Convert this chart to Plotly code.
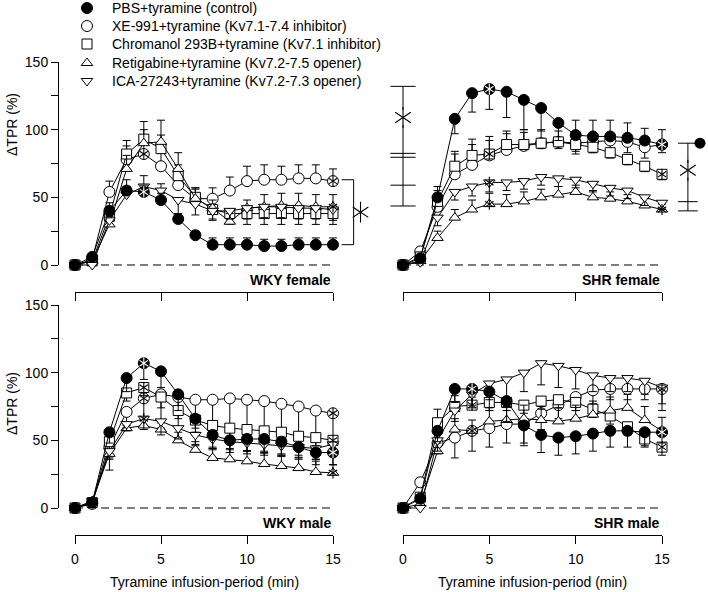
import plotly.graph_objects as go

W, H = 708, 592
FONT = "Liberation Sans, Arial, sans-serif"

minutes = list(range(16))

names = ["PBS+tyramine (control)",
         "XE-991+tyramine (Kv7.1-7.4 inhibitor)",
         "Chromanol 293B+tyramine (Kv7.1 inhibitor)",
         "Retigabine+tyramine (Kv7.2-7.5 opener)",
         "ICA-27243+tyramine (Kv7.2-7.3 opener)"]
symbols = ["circle", "circle", "square", "triangle-up", "triangle-down"]
fills = ["black", "white", "white", "white", "white"]

# dTPR (%) means; errors are signed: + bar drawn upward, - bar drawn downward
# WKY female
wkyf_pbs = [0, 6, 40, 55, 54, 48, 34, 22, 15, 15, 15, 14, 14, 15, 15, 15]
wkyf_xe = [0, 4, 54, 78, 82, 73, 59, 49, 49, 55, 62, 63, 63, 64, 64, 62]
wkyf_chr = [0, 3, 36, 82, 93, 86, 66, 50, 41, 38, 38, 38, 38, 38, 38, 38]
wkyf_ret = [0, 3, 30, 71, 90, 91, 71, 49, 42, 32, 42, 43, 44, 44, 43, 43]
wkyf_ica = [0, 0, 33, 52, 58, 55, 48, 45, 40, 40, 42, 43, 43, 42, 42, 41]
wkyf_pbs_err = [0, 2, 6, 8, 5, 5, 4, 3, 5, 5, 5, 5, 5, 5, 5, 5]
wkyf_xe_err = [0, 2, 8, 10, 10, 10, 10, 8, 8, 10, 11, 11, 10, 10, 10, 9]
wkyf_chr_err = [0, 2, 6, 10, 13, 10, 8, 6, -8, -8, -8, -8, -8, -8, -8, -8]
wkyf_ret_err = [0, 2, 6, 10, 10, 16, 12, 8, 6, 6, 6, 9, 9, 9, 9, 9]
wkyf_ica_err = [0, 1, 5, 6, 8, 5, -10, -8, -6, -6, -8, -8, -8, -8, -8, -8]

# SHR female
shrf_pbs = [0, 5, 50, 108, 127, 130, 128, 122, 116, 105, 96, 95, 95, 94, 92, 89]
shrf_xe = [0, 10, 43, 67, 74, 81, 85, 88, 90, 91, 90, 91, 92, 91, 87, 89]
shrf_chr = [0, 6, 47, 73, 81, 82, 89, 89, 90, 91, 89, 87, 83, 78, 73, 67]
shrf_ret = [0, 3, 20, 35, 41, 45, 45, 47, 50, 52, 54, 50, 49, 47, 44, 41]
shrf_ica = [0, 2, 35, 54, 58, 61, 61, 62, 65, 64, 63, 60, 57, 55, 50, 46]
shrf_pbs_err = [0, 2, 8, -11, -14, -15, -19, -22, -17, -13, 11, 12, 12, 11, 9, 11]
shrf_xe_err = [0, 3, 8, 15, 15, 14, 12, 12, 10, 8, -8, -8, -8, -8, -8, -6]
shrf_chr_err = [0, 3, 8, 11, 12, 10, 10, 9, -4, -5, -5, -4, -4, -4, -4, -4]
shrf_ret_err = [0, 2, 5, 6, 7, 8, 7, 7, 6, 6, 5, 5, 5, 5, 5, 4]
shrf_ica_err = [0, 2, -6, -6, -7, -7, -6, -6, -6, -6, -6, -6, -6, -6, -6, -5]

# WKY male
wkym_pbs = [0, 4, 56, 96, 107, 101, 84, 66, 54, 50, 51, 51, 49, 45, 41, 41]
wkym_xe = [0, 3, 45, 71, 81, 84, 82, 80, 80, 81, 80, 79, 77, 75, 72, 70]
wkym_chr = [0, 4, 49, 85, 89, 82, 72, 65, 61, 59, 58, 57, 56, 53, 52, 50]
wkym_ret = [0, 5, 40, 59, 61, 58, 50, 43, 37, 36, 34.5, 32.5, 31, 29.5, 26.6, 26]
wkym_ica = [0, 5, 42, 62, 66, 64, 59, 54, 51, 49, 48, 47, 46, 45, 44, 47]
wkym_pbs_err = [0, 2, -8, -10, -12, -12, -12, -10, -10, -9, -9, -9, -9, -9, -9, -9]
wkym_xe_err = [0, 2, -8, -10, -20, -25, -30, -33, -36, -38, -38, -38, -38, -36, -36, -38]
wkym_chr_err = [0, 2, -6, -6, -6, -8, -6, -6, -6, -6, -6, -6, -6, -6, -6, -6]
wkym_ret_err = [0, 2, -12, 4, 4, 5, 6, 6, 8, 8, 8, 8, 8, 8, 8, 6]
wkym_ica_err = [0, 2, -6, -5, -8, -10, -8, -8, -8, -8, -8, -8, -8, -8, -8, -8]

# SHR male
shrm_pbs = [0, 7, 57, 88, 88, 86, 79, 61, 54, 52, 53, 55, 57, 57, 56, 56]
shrm_xe = [0, 19, 48, 52, 57, 59, 62, 62, 70, 76, 82, 87, 88, 88, 88, 88]
shrm_chr = [0, 8, 63, 75, 76, 78, 78, 76, 79, 80, 78, 73, 68, 60, 51, 45]
shrm_ret = [0, 3, 42, 58, 57, 64, 65, 66, 65, 64, 66, 69, 72, 74, 65, 57]
shrm_ica = [0, 0, 50, 72, 84, 92, 95, 100, 107, 105, 102, 98, 96, 96, 94, 89]
shrm_pbs_err = [0, 2, -8, -10, -12, -14, -15, -15, -13, -13, -13, -13, -12, -12, -10, -8]
shrm_xe_err = [0, 3, -8, -15, -15, -14, -14, -14, -12, -10, -10, -10, -8, -8, -8, -16]
shrm_chr_err = [0, 3, 10, 8, 6, -6, -6, -6, -6, -6, -6, -6, -6, -6, -6, -6]
shrm_ret_err = [0, 2, 6, 8, 8, 10, 10, 10, 10, 10, 10, 10, 10, 10, 10, 10]
shrm_ica_err = [0, 2, -8, -8, -10, -12, -14, -14, -16, -16, -14, -12, -10, -10, -10, -12]

# significance stars inside markers: series index -> minutes
wkyf_stars = {0: [4], 1: [4, 15], 3: [15]}
shrf_stars = {0: [5, 15], 2: [5, 15], 3: [5, 15], 4: [5]}
wkym_stars = {0: [4, 15], 1: [4, 15], 2: [4, 15], 3: [15], 4: [4]}
shrm_stars = {0: [4, 15], 1: [4, 15], 2: [4, 15]}

# significance brackets (x in min, y in %)
wkyf_bracket_x, wkyf_bracket_lo, wkyf_bracket_hi, wkyf_star_at = 16.2, 15, 63, (16.6, 39)
shrf_left_x, shrf_left_caps, shrf_left_star = 0, [132, 82.5, 79.6, 59, 43.6], 109
shrf_right_x, shrf_right_caps, shrf_right_star = 16.5, [90, 46.8, 40], 70
shrf_key_dot = (17.2, 90)

# legend placement (pixels from top-left)
legend_marker_x, legend_text_x = 87, 110
legend_rows = [8, 26, 44, 63, 81]

panels = [
    dict(label="WKY female", means=[wkyf_pbs, wkyf_xe, wkyf_chr, wkyf_ret, wkyf_ica],
         errs=[wkyf_pbs_err, wkyf_xe_err, wkyf_chr_err, wkyf_ret_err, wkyf_ica_err],
         stars=wkyf_stars, t0=75, t15=333, y0=265, y150=62, axis_px=292, left=True, bottom=False,
         xr=[-1.5, 17.6], ytitle_px=125),
    dict(label="SHR female", means=[shrf_pbs, shrf_xe, shrf_chr, shrf_ret, shrf_ica],
         errs=[shrf_pbs_err, shrf_xe_err, shrf_chr_err, shrf_ret_err, shrf_ica_err],
         stars=shrf_stars, t0=403, t15=662, y0=265, y150=62, axis_px=292, left=False, bottom=False,
         xr=[-1.2, 17.65]),
    dict(label="WKY male", means=[wkym_pbs, wkym_xe, wkym_chr, wkym_ret, wkym_ica],
         errs=[wkym_pbs_err, wkym_xe_err, wkym_chr_err, wkym_ret_err, wkym_ica_err],
         stars=wkym_stars, t0=75, t15=333, y0=508, y150=305, axis_px=535, left=True, bottom=True,
         xr=[-1.5, 17.6], ytitle_px=404),
    dict(label="SHR male", means=[shrm_pbs, shrm_xe, shrm_chr, shrm_ret, shrm_ica],
         errs=[shrm_pbs_err, shrm_xe_err, shrm_chr_err, shrm_ret_err, shrm_ica_err],
         stars=shrm_stars, t0=403, t15=662, y0=508, y150=305, axis_px=535, left=False, bottom=True,
         xr=[-1.2, 17.65]),
]
YR = [-10, 160]

fig = go.Figure()
layout = {}
annotations = []


def star(x, y, size, color, xa, ya, gap=False):
    if gap:
        fig.add_trace(go.Scatter(x=x, y=y, xaxis=xa, yaxis=ya, mode="markers", showlegend=False,
                                 hoverinfo="skip", cliponaxis=False,
                                 marker=dict(symbol="square", size=size + 2, color="white", line=dict(width=0))))
    for sym in ("y-up-open", "y-down-open"):
        fig.add_trace(go.Scatter(x=x, y=y, xaxis=xa, yaxis=ya, mode="markers", showlegend=False,
                                 hoverinfo="skip", cliponaxis=False,
                                 marker=dict(symbol=sym, size=size, color=color,
                                             line=dict(color=color, width=1.1))))


def caps(x, ys, size, xa, ya):
    fig.add_trace(go.Scatter(x=[x] * len(ys), y=ys, xaxis=xa, yaxis=ya, mode="markers", showlegend=False,
                             hoverinfo="skip", cliponaxis=False,
                             marker=dict(symbol="line-ew-open", size=size, color="black",
                                         line=dict(color="black", width=1))))


def vline(x, lo, hi, xa, ya):
    fig.add_trace(go.Scatter(x=[x, x], y=[lo, hi], xaxis=xa, yaxis=ya, mode="lines", showlegend=False,
                             hoverinfo="skip", line=dict(color="black", width=1)))


for i, p in enumerate(panels, start=1):
    xa = "x" if i == 1 else f"x{i}"
    ya = "y" if i == 1 else f"y{i}"
    s = (p["t15"] - p["t0"]) / 15.0
    sy = (p["y0"] - p["y150"]) / 150.0
    xl = p["t0"] + p["xr"][0] * s
    xr = p["t0"] + p["xr"][1] * s
    yb = p["y0"] - YR[0] * sy
    yt = p["y0"] - YR[1] * sy
    layout["xaxis" if i == 1 else f"xaxis{i}"] = dict(domain=[xl / W, min(xr / W, 1)], range=p["xr"],
                                                      visible=False, anchor=ya, fixedrange=True)
    layout["yaxis" if i == 1 else f"yaxis{i}"] = dict(domain=[1 - yb / H, 1 - yt / H], range=YR,
                                                      visible=False, anchor=xa, fixedrange=True)

    # drawn x axis (0-15 min)
    layout[f"xaxis{i + 4}"] = dict(domain=[p["t0"] / W, p["t15"] / W], range=[0, 15], anchor="free",
                                   position=1 - p["axis_px"] / H, showline=True, linecolor="black",
                                   linewidth=1, ticks="outside", ticklen=8, tickwidth=1, tickcolor="black",
                                   tickvals=[0, 5, 10, 15], showticklabels=p["bottom"], showgrid=False,
                                   zeroline=False, ticklabelstandoff=3, side="bottom",
                                   tickfont=dict(size=14, color="black", family=FONT), fixedrange=True)
    fig.add_trace(go.Scatter(x=[None], y=[None], xaxis=f"x{i + 4}", yaxis=ya, showlegend=False,
                             hoverinfo="skip"))
    if p["left"]:
        yid = 5 if i == 1 else 6
        layout[f"yaxis{yid}"] = dict(domain=[1 - p["y0"] / H, 1 - p["y150"] / H], range=[0, 150],
                                     anchor="free", position=58 / W, showline=True, linecolor="black",
                                     linewidth=1, ticks="outside", ticklen=7, tickwidth=1, tickcolor="black",
                                     tickvals=[0, 25, 50, 75, 100, 125, 150],
                                     ticktext=["0", "", "50", "", "100", "", "150"],
                                     showgrid=False, zeroline=False, side="left",
                                     tickfont=dict(size=14, color="black", family=FONT), fixedrange=True)
        fig.add_trace(go.Scatter(x=[None], y=[None], xaxis=xa, yaxis=f"y{yid}", showlegend=False,
                                 hoverinfo="skip"))
        annotations.append(dict(text="ΔTPR (%)", xref="paper", yref="paper", x=12 / W,
                                y=1 - p["ytitle_px"] / H, textangle=-90, showarrow=False,
                                xanchor="center", yanchor="middle",
                                font=dict(size=14, color="black", family=FONT)))
    if p["bottom"]:
        annotations.append(dict(text="Tyramine infusion-period (min)", xref="paper", yref="paper",
                                x=(p["t0"] + p["t15"]) / 2 / W, y=1 - 582 / H, showarrow=False,
                                xanchor="center", yanchor="middle",
                                font=dict(size=14, color="black", family=FONT)))

    # panel label
    annotations.append(dict(text="<b>" + p["label"] + "</b>", xref=xa, yref="paper", x=15,
                            y=1 - (p["axis_px"] - 12) / H, xanchor="right", yanchor="middle",
                            showarrow=False, font=dict(size=14, color="black", family=FONT)))

    # dashed zero line
    fig.add_trace(go.Scatter(x=[0, 15], y=[0, 0], xaxis=xa, yaxis=ya, mode="lines", showlegend=False,
                             hoverinfo="skip", line=dict(color="black", width=1, dash="8px,5px")))

    for k in [1, 2, 3, 4, 0]:
        e = p["errs"][k]
        up = [v if v > 0 else 0 for v in e]
        dn = [-v if v < 0 else 0 for v in e]
        fig.add_trace(go.Scatter(
            x=minutes, y=p["means"][k], xaxis=xa, yaxis=ya, mode="lines+markers", name=names[k],
            showlegend=False, cliponaxis=False,
            line=dict(color="black", width=1),
            marker=dict(symbol=symbols[k], size=11 if k < 2 else 10, color=fills[k],
                        line=dict(color="black", width=1)),
            error_y=dict(type="data", symmetric=False, array=up, arrayminus=dn,
                         color="black", thickness=1, width=4)))

    for k, idx in p["stars"].items():
        star([minutes[j] for j in idx], [p["means"][k][j] for j in idx], 7,
             "white" if k == 0 else "black", xa, ya)

    if i == 1:
        bx = wkyf_bracket_x
        fig.add_trace(go.Scatter(x=[bx - 0.7, bx, bx, bx - 0.7],
                                 y=[wkyf_bracket_hi, wkyf_bracket_hi, wkyf_bracket_lo, wkyf_bracket_lo],
                                 xaxis=xa, yaxis=ya, mode="lines", showlegend=False, hoverinfo="skip",
                                 line=dict(color="black", width=1)))
        star([wkyf_star_at[0]], [wkyf_star_at[1]], 13, "black", xa, ya)
    if i == 2:
        vline(shrf_left_x, min(shrf_left_caps), max(shrf_left_caps), xa, ya)
        caps(shrf_left_x, shrf_left_caps, 18, xa, ya)
        star([shrf_left_x], [shrf_left_star], 13, "black", xa, ya, gap=True)
        vline(shrf_right_x, min(shrf_right_caps), max(shrf_right_caps), xa, ya)
        caps(shrf_right_x, shrf_right_caps, 14, xa, ya)
        star([shrf_right_x], [shrf_right_star], 13, "black", xa, ya, gap=True)
        fig.add_trace(go.Scatter(x=[shrf_key_dot[0]], y=[shrf_key_dot[1]], xaxis=xa, yaxis=ya,
                                 mode="markers", showlegend=False, cliponaxis=False,
                                 marker=dict(symbol="circle", size=11, color="black")))

# legend drawn on a pixel-coordinate overlay axis
layout["xaxis9"] = dict(domain=[0, 1], range=[0, W], visible=False, anchor="y9", fixedrange=True)
layout["yaxis9"] = dict(domain=[0, 1], range=[H, 0], visible=False, anchor="x9", fixedrange=True)
for k in range(5):
    fig.add_trace(go.Scatter(x=[legend_marker_x], y=[legend_rows[k]], xaxis="x9", yaxis="y9",
                             mode="markers", showlegend=False, hoverinfo="skip", cliponaxis=False,
                             marker=dict(symbol=symbols[k], size=11 if k < 2 else 10, color=fills[k],
                                         line=dict(color="black", width=1))))
    annotations.append(dict(text=names[k], xref="x9", yref="y9", x=legend_text_x, y=legend_rows[k],
                            xanchor="left", yanchor="middle", showarrow=False,
                            font=dict(size=14, color="black", family=FONT)))

fig.update_layout(
    width=W, height=H,
    margin=dict(l=0, r=0, t=0, b=0, pad=0, autoexpand=False),
    paper_bgcolor="white", plot_bgcolor="rgba(0,0,0,0)",
    font=dict(family=FONT, size=14, color="black"),
    showlegend=False,
    annotations=annotations,
    **layout,
)

fig.write_html("out.html", config={"displayModeBar": False},
               post_script="document.body.style.margin='0';")
